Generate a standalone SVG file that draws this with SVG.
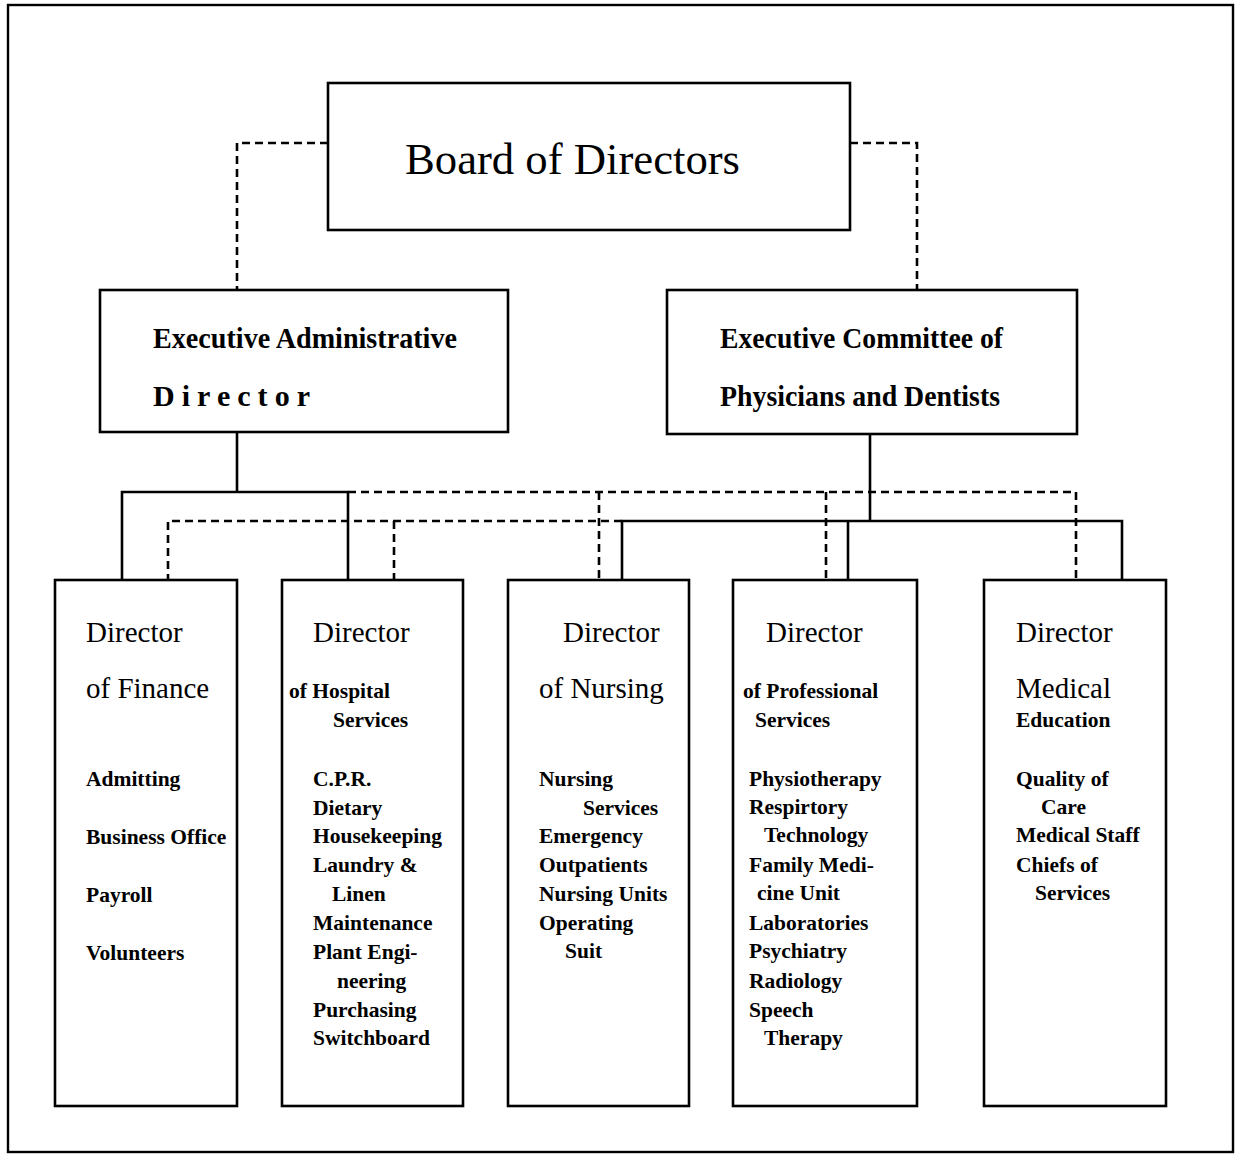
<svg xmlns="http://www.w3.org/2000/svg" width="1237" height="1154" viewBox="0 0 1237 1154">
<style>
.box{fill:#fff;stroke:#000;stroke-width:2.6}
.solid{fill:none;stroke:#000;stroke-width:2.6}
.dash{fill:none;stroke:#000;stroke-width:2.6;stroke-dasharray:8 5}
text{font-family:"Liberation Serif","Times New Roman",serif;fill:#000}
.big{font-size:29px}
.hd{font-size:30px;font-weight:bold}
.sm{font-size:21.5px;font-weight:bold}
.title{font-size:44px}
</style>
<rect x="0" y="0" width="1237" height="1154" fill="#fff"/>
<rect x="8" y="5" width="1225" height="1147" fill="none" stroke="#000" stroke-width="2.4"/>
<g id="connectors">
<polyline class="dash" points="328,143 237,143 237,290"/>
<polyline class="dash" points="850,143 917,143 917,290"/>
<line class="solid" x1="237" y1="432" x2="237" y2="492"/>
<polyline class="solid" points="122,580 122,492 348,492 348,580"/>
<line class="dash" x1="348" y1="492" x2="1076" y2="492"/>
<line class="dash" x1="599" y1="492" x2="599" y2="580"/>
<line class="dash" x1="826" y1="492" x2="826" y2="580"/>
<line class="dash" x1="1076" y1="492" x2="1076" y2="580"/>
<line class="solid" x1="870" y1="434" x2="870" y2="521"/>
<polyline class="solid" points="622,580 622,521 1122,521 1122,580"/>
<line class="solid" x1="848" y1="521" x2="848" y2="580"/>
<polyline class="dash" points="622,521 168,521 168,580"/>
<line class="dash" x1="394" y1="521" x2="394" y2="580"/>
</g>
<g id="board">
<rect class="box" x="328" y="83" width="522" height="147"/>
<text class="title" x="405" y="174" textLength="335" lengthAdjust="spacingAndGlyphs">Board of Directors</text>
</g>
<g id="exec-admin">
<rect class="box" x="100" y="290" width="408" height="142"/>
<text class="hd" x="153" y="348" textLength="304" lengthAdjust="spacingAndGlyphs">Executive Administrative</text>
<text class="hd" x="153" y="406" textLength="157" lengthAdjust="spacing">Director</text>
</g>
<g id="exec-committee">
<rect class="box" x="667" y="290" width="410" height="144"/>
<text class="hd" x="720" y="348" textLength="283" lengthAdjust="spacingAndGlyphs">Executive Committee of</text>
<text class="hd" x="720" y="406" textLength="280" lengthAdjust="spacingAndGlyphs">Physicians and Dentists</text>
</g>
<g id="dir-finance">
<rect class="box" x="55" y="580" width="182" height="526"/>
<text class="big" x="86" y="642">Director</text>
<text class="big" x="86" y="698">of Finance</text>
<text class="sm" x="86" y="786">Admitting</text>
<text class="sm" x="86" y="844">Business Office</text>
<text class="sm" x="86" y="902">Payroll</text>
<text class="sm" x="86" y="960">Volunteers</text>
</g>
<g id="dir-hospital">
<rect class="box" x="282" y="580" width="181" height="526"/>
<text class="big" x="313" y="642">Director</text>
<text class="sm" x="289" y="698">of Hospital</text>
<text class="sm" x="333" y="727">Services</text>
<text class="sm" x="313" y="786">C.P.R.</text>
<text class="sm" x="313" y="815">Dietary</text>
<text class="sm" x="313" y="843">Housekeeping</text>
<text class="sm" x="313" y="872">Laundry &amp;</text>
<text class="sm" x="332" y="901">Linen</text>
<text class="sm" x="313" y="930">Maintenance</text>
<text class="sm" x="313" y="959">Plant Engi-</text>
<text class="sm" x="337" y="988">neering</text>
<text class="sm" x="313" y="1017">Purchasing</text>
<text class="sm" x="313" y="1045">Switchboard</text>
</g>
<g id="dir-nursing">
<rect class="box" x="508" y="580" width="181" height="526"/>
<text class="big" x="563" y="642">Director</text>
<text class="big" x="539" y="698">of Nursing</text>
<text class="sm" x="539" y="786">Nursing</text>
<text class="sm" x="583" y="815">Services</text>
<text class="sm" x="539" y="843">Emergency</text>
<text class="sm" x="539" y="872">Outpatients</text>
<text class="sm" x="539" y="901">Nursing Units</text>
<text class="sm" x="539" y="930">Operating</text>
<text class="sm" x="565" y="958">Suit</text>
</g>
<g id="dir-professional">
<rect class="box" x="733" y="580" width="184" height="526"/>
<text class="big" x="766" y="642">Director</text>
<text class="sm" x="743" y="698">of Professional</text>
<text class="sm" x="755" y="727">Services</text>
<text class="sm" x="749" y="786">Physiotherapy</text>
<text class="sm" x="749" y="814">Respirtory</text>
<text class="sm" x="764" y="842">Technology</text>
<text class="sm" x="749" y="872">Family Medi-</text>
<text class="sm" x="757" y="900">cine Unit</text>
<text class="sm" x="749" y="930">Laboratories</text>
<text class="sm" x="749" y="958">Psychiatry</text>
<text class="sm" x="749" y="988">Radiology</text>
<text class="sm" x="749" y="1017">Speech</text>
<text class="sm" x="764" y="1045">Therapy</text>
</g>
<g id="dir-medical-education">
<rect class="box" x="984" y="580" width="182" height="526"/>
<text class="big" x="1016" y="642">Director</text>
<text class="big" x="1016" y="698">Medical</text>
<text class="sm" x="1016" y="727">Education</text>
<text class="sm" x="1016" y="786">Quality of</text>
<text class="sm" x="1041" y="814">Care</text>
<text class="sm" x="1016" y="842">Medical Staff</text>
<text class="sm" x="1016" y="872">Chiefs of</text>
<text class="sm" x="1035" y="900">Services</text>
</g>
</svg>
